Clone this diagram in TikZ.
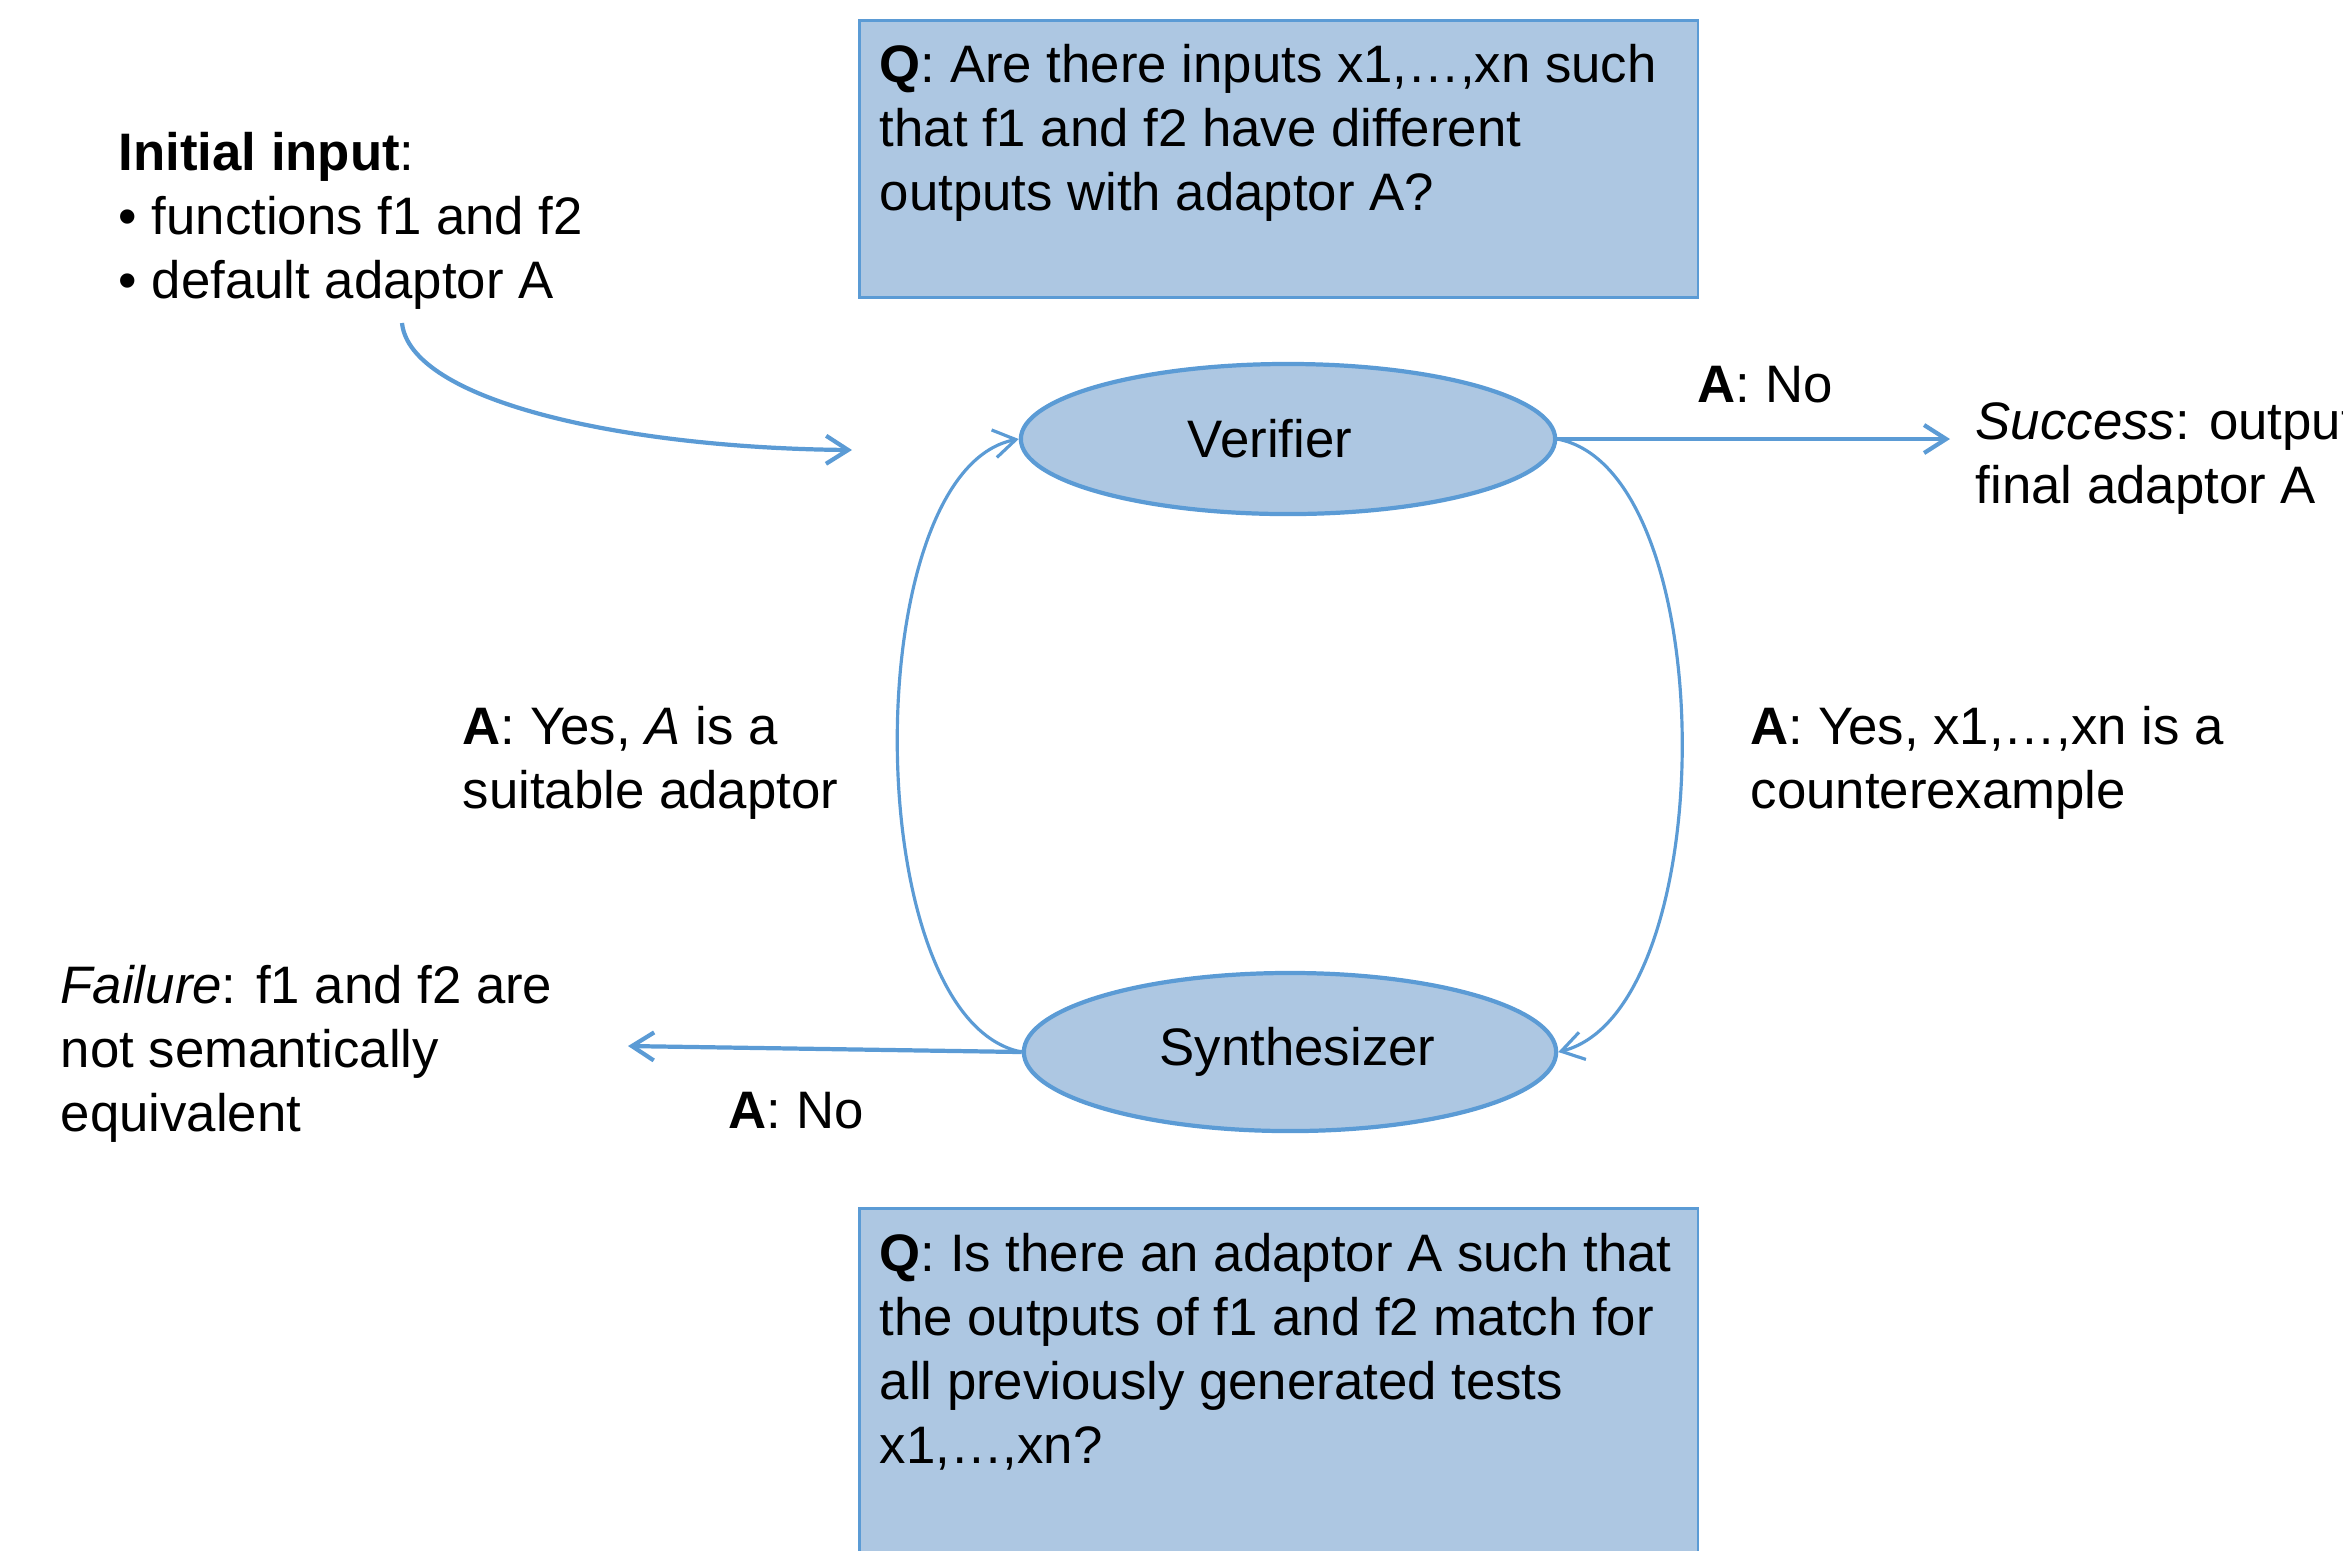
\documentclass[tikz,border=0pt]{standalone}
\usepackage{fontspec}
\setmainfont{Liberation Sans}
\usetikzlibrary{shapes.geometric,arrows.meta}
\definecolor{boxfill}{RGB}{173,199,226}
\definecolor{edgeblue}{RGB}{91,155,213}
\begin{document}
\begin{tikzpicture}[x=0.01cm,y=-0.01cm,
  every node/.style={font=\fontsize{15}{18.2}\selectfont},
  lbl/.style={anchor=base west,inner sep=0pt,align=left},
  ell/.style={ellipse,draw=edgeblue,fill=boxfill,line width=1.2pt,inner sep=0pt},
  qbox/.style={draw=edgeblue,fill=boxfill,line width=0.8pt,anchor=north west,inner sep=0pt},
  conn/.style={draw=edgeblue,line width=1.2pt,-{Straight Barb[length=2.2mm,width=2.8mm]}},
  thinconn/.style={conn,line width=0.9pt}
]
\useasboundingbox (0,0) rectangle (2343,1550);
\clip (0,0) rectangle (2343,1550);

% question boxes
\node[qbox,minimum width=8.38cm,minimum height=2.77cm] (q1) at (858,19) {};
\node[lbl] (q1t) at (879,210) {\textbf{Q}: Are there inputs x1,…,xn such\\that f1 and f2 have different\\outputs with adaptor A?};
\node[qbox,minimum width=8.38cm,minimum height=4cm] (q2) at (858,1207) {};
\node[lbl] (q2t) at (879,1463) {\textbf{Q}: Is there an adaptor A such that\\the outputs of f1 and f2 match for\\all previously generated tests\\x1,…,xn?};

% ellipses
\node[ell,minimum width=5.34cm,minimum height=1.5cm] (ver) at (1288,439) {Verifier\hspace*{0.36cm}};
\node[ell,minimum width=5.32cm,minimum height=1.58cm] (syn) at (1290,1052) {\hspace*{0.15cm}Synthesizer};

% labels
\node[lbl] (init) at (118,298) {\textbf{Initial input}:\\• functions f1 and f2\\• default adaptor A};
\node[lbl] (noTop) at (1697,402) {\textbf{A}: No};
\node[lbl] (succ) at (1975,503) {\textit{Success}: output\\final adaptor A};
\node[lbl] (yesA) at (462,808) {\textbf{A}: Yes, \textit{A} is a\\suitable adaptor};
\node[lbl] (yesX) at (1750,808) {\textbf{A}: Yes, x1,…,xn is a\\counterexample};
\node[lbl] (fail) at (60,1131) {\textit{Failure}: f1 and f2 are\\not semantically\\equivalent};
\node[lbl] (noBot) at (728,1128) {\textbf{A}: No};

% connectors
\coordinate (inStart) at (402,323);
\coordinate (inEnd) at (852,450);
\coordinate (succEnd) at (1950,439);
\coordinate (failEnd) at (628,1046);
\draw[conn] (inStart) .. controls (410,400) and (620,448) .. (inEnd);
\draw[conn] (ver.east) -- (succEnd);
\draw[thinconn] (ver.east) .. controls (1723,470) and (1723,1010) .. (syn.east);
\draw[thinconn] (syn.west) .. controls (857,1020) and (857,470) .. (ver.west);
\draw[conn] (syn.west) -- (failEnd);
\end{tikzpicture}
\end{document}
